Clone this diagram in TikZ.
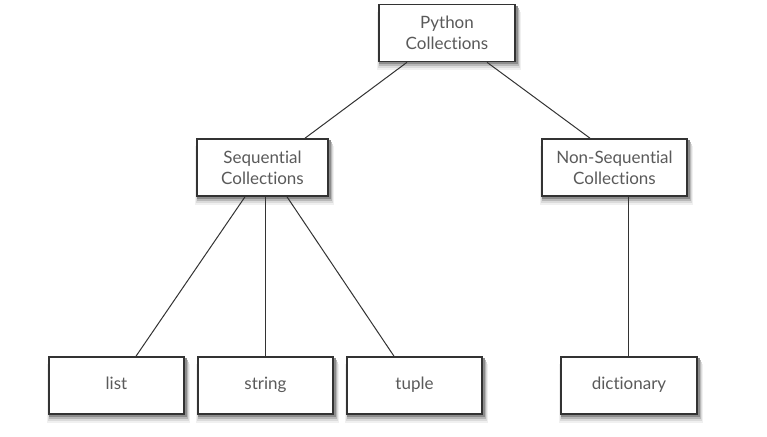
\documentclass[tikz,border=0pt]{standalone}
\usepackage{fontspec}
\setmainfont{Lato}[Ligatures={NoCommon,NoRequired}]
\usetikzlibrary{backgrounds}
\definecolor{boxline}{HTML}{333333}
\definecolor{txt}{HTML}{5A5A5A}
\begin{document}
\begin{tikzpicture}[x=1pt,y=-1pt,
  cbox/.style={draw=boxline, line width=1.6pt, fill=white, text=txt,
    minimum width=135pt, minimum height=57pt, align=center, inner sep=0pt,
    font=\fontsize{17}{21}\selectfont},
  onel/.style={text height=12pt, text depth=4pt},
  conn/.style={draw=boxline, line width=1pt}]
\useasboundingbox (0,0) rectangle (767,436);
\node[cbox, minimum width=136pt] (py) at (447,33) {Python\\Collections};
\node[cbox, minimum width=131pt] (seq) at (262.5,167.5) {Sequential\\Collections};
\node[cbox, minimum width=145pt] (nseq) at (614.5,167.5) {Non-Sequential\\Collections};
\node[cbox, onel] (list) at (116.5,385.5) {list};
\node[cbox, onel] (string) at (265.5,385.5) {string};
\node[cbox, onel] (tuple) at (414.5,385.5) {tuple};
\node[cbox, onel, minimum width=136pt] (dict) at (629,385.5) {dictionary};
\begin{scope}[on background layer]
\fill[white] (0,0) rectangle (767,436);
\foreach \n in {py,seq,nseq,list,string,tuple,dict}{
  \fill[black!6] ([xshift=-1pt,yshift=-8pt]\n.north west) rectangle ([xshift=5pt,yshift=-8pt]\n.south east);
  \fill[black!14] ([xshift=0pt,yshift=-6pt]\n.north west) rectangle ([xshift=4pt,yshift=-6pt]\n.south east);
  \fill[black!28] ([xshift=1pt,yshift=-4pt]\n.north west) rectangle ([xshift=3pt,yshift=-4pt]\n.south east);
  \fill[black!45] ([xshift=1pt,yshift=-2pt]\n.north west) rectangle ([xshift=2pt,yshift=-2pt]\n.south east);
}
\end{scope}
\draw[conn] (py.south -| 407,0) -- (seq.north -| 305,0);
\draw[conn] (py.south -| 487,0) -- (nseq.north -| 590,0);
\draw[conn] (seq.south -| 245,0) -- (list.north -| 136,0);
\draw[conn] (seq.south -| 265,0) -- (string.north -| 265,0);
\draw[conn] (seq.south -| 287,0) -- (tuple.north -| 394,0);
\draw[conn] (nseq.south -| 628,0) -- (dict.north -| 628,0);
\end{tikzpicture}
\end{document}
